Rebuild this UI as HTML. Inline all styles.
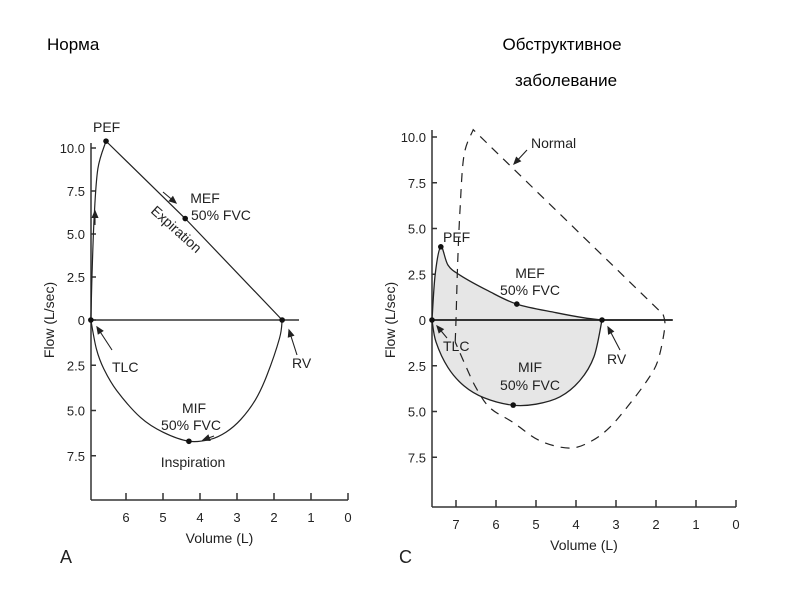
<!DOCTYPE html>
<html><head><meta charset="utf-8"><style>
body{margin:0;background:#fff}
svg{display:block;font-family:"Liberation Sans",sans-serif}
</style></head><body>
<svg id="s" width="794" height="595">
<text x="47" y="50" font-size="17">Норма</text>
<text x="562" y="50" font-size="17" text-anchor="middle">Обструктивное</text>
<text x="566" y="86" font-size="17" text-anchor="middle">заболевание</text>
</svg>
<script>
// Panel A (normal)
const aExp=[[6.95,0],[6.92,2.5],[6.86,6],[6.76,8.8],[6.54,10.4]];
const aExpLine=[[6.54,10.4],[4.4,5.9],[1.78,0]];
const aInsp=[[6.95,0],[6.8,-1.6],[6.6,-2.7],[6.25,-3.9],[5.6,-5.4],[5,-6.2],[4.3,-6.7],[3.73,-6.6],[3.3,-6.2],[2.9,-5.5],[2.5,-4.4],[2.2,-3.1],[1.85,-1.0],[1.78,0]];
const aPts=[[6.95,0],[6.54,10.4],[4.4,5.9],[1.78,0],[4.3,-6.7]];
// Panel C (obstructive)
const cExp=[[7.6,0],[7.52,2.5],[7.38,4.0],[7.2,3.0],[6.9,2.45],[6.2,1.6],[5.48,0.87],[4.5,0.4],[3.8,0.12],[3.35,0]];
const cInsp=[[7.6,0],[7.5,-1.2],[7.2,-2.6],[6.8,-3.6],[6.3,-4.25],[5.6,-4.65],[5,-4.6],[4.4,-4.2],[3.9,-3.3],[3.55,-2.0],[3.35,0]];
const cNormExp=[[7.02,-1.2],[7.0,0],[6.96,3],[6.9,6],[6.8,9],[6.57,10.4],[1.82,0.3]];
const cNormInsp=[[1.82,0.3],[1.78,-0.4],[1.95,-2.2],[2.22,-3.3],[2.7,-4.7],[3.15,-5.85],[3.6,-6.6],[4.15,-7.0],[4.9,-6.6],[5.57,-5.6],[6.15,-4.8],[6.5,-3.7],[6.8,-2.3],[7.02,-1.2]];
const cPts=[[7.6,0],[7.38,4.0],[5.48,0.87],[3.35,0],[5.57,-4.65]];
const yTicks=[10,7.5,5,2.5,0,-2.5,-5,-7.5];
const yTickLabels=["10.0","7.5","5.0","2.5","0","2.5","5.0","7.5"];
const aXTicks=[6,5,4,3,2,1,0];
const cXTicks=[7,6,5,4,3,2,1,0];

const S=document.getElementById('s');const NS="http://www.w3.org/2000/svg";
function mk(t,a,txt){const e=document.createElementNS(NS,t);for(const k in a)e.setAttribute(k,a[k]);if(txt!==undefined)e.textContent=txt;S.appendChild(e);return e;}
function smooth(pts){let d="M"+pts[0][0]+","+pts[0][1];for(let i=0;i<pts.length-1;i++){const p0=pts[i-1]||pts[i],p1=pts[i],p2=pts[i+1],p3=pts[i+2]||p2;
d+=" C"+(p1[0]+(p2[0]-p0[0])/6)+","+(p1[1]+(p2[1]-p0[1])/6)+" "+(p2[0]-(p3[0]-p1[0])/6)+","+(p2[1]-(p3[1]-p1[1])/6)+" "+p2[0]+","+p2[1];}return d;}
function lineD(pts){return "M"+pts.map(p=>p.join(",")).join(" L");}

function panel(o){
 const X=v=>o.x0-o.xs*v;
 const Y=f=>f>=0?o.y0-o.ys*f:o.y0-o.yn*f;
 const P=arr=>arr.map(p=>[X(p[0]),Y(p[1])]);
 let e;
 e=mk('line',{x1:o.ax,y1:o.top,x2:o.ax,y2:o.bot,stroke:'#333','stroke-width':1.5});
 
 e=mk('line',{x1:o.ax,y1:o.bot,x2:X(0),y2:o.bot,stroke:'#333','stroke-width':1.5});
 
 yTicks.forEach((t,i)=>{
  e=mk('line',{x1:o.ax,y1:Y(t),x2:o.ax+5,y2:Y(t),stroke:'#333','stroke-width':1.5});
  
  e=mk('text',{x:o.ax-6,y:Y(t)+5,'font-size':13,'text-anchor':'end',fill:'#222'},yTickLabels[i]);
  
 });
 o.xt.forEach(t=>{
  e=mk('line',{x1:X(t),y1:o.bot,x2:X(t),y2:o.bot-7,stroke:'#333','stroke-width':1.5});
  
  e=mk('text',{x:X(t),y:o.bot+22,'font-size':13,'text-anchor':'middle',fill:'#222'},String(t));
  
 });
 e=mk('text',{x:(o.ax+X(0))/2,y:o.bot+43,'font-size':14,'text-anchor':'middle',fill:'#222'},'Volume (L)');
 
 e=mk('text',{x:0,y:0,'font-size':14,'text-anchor':'middle',fill:'#222',transform:`translate(${o.ax-37},${o.y0}) rotate(-90)`},'Flow (L/sec)');
 
 return {X,Y,P};
}

// Panel A
const A=panel({id:'panel-a',x0:348,xs:37,y0:320,ys:17.2,yn:18.1,ax:91,top:143,bot:500,xt:aXTicks});
let e;
e=mk('line',{x1:91,y1:320,x2:299,y2:320,stroke:'#333','stroke-width':1.5});

e=mk('path',{d:smooth(A.P(aExp)),fill:'none',stroke:'#222','stroke-width':1.2});

e=mk('path',{d:lineD(A.P(aExpLine)),fill:'none',stroke:'#222','stroke-width':1.2});

e=mk('path',{d:smooth(A.P(aInsp)),fill:'none',stroke:'#222','stroke-width':1.2});

A.P(aPts).forEach(p=>{e=mk('circle',{cx:p[0],cy:p[1],r:2.8,fill:'#111'});
});

// Panel C
const C=panel({id:'panel-c',x0:736,xs:40,y0:320,ys:18.3,yn:18.3,ax:432,top:130,bot:507,xt:cXTicks});
const cLoop=C.P(cExp).concat(C.P(cInsp).slice().reverse());
e=mk('path',{d:smooth(C.P(cExp))+" "+smooth(C.P(cInsp).reverse()).replace(/^M/,'L')+"Z",fill:'#e6e6e6',stroke:'none'});

e=mk('line',{x1:432,y1:320,x2:C.X(1.58),y2:320,stroke:'#333','stroke-width':2});

e=mk('path',{d:smooth(C.P(cNormExp.slice(0,6)))+" L"+C.P([cNormExp[6]])[0].join(","),fill:'none',stroke:'#222','stroke-width':1.2,'stroke-dasharray':'9,7'});

e=mk('path',{d:smooth(C.P(cNormInsp)),fill:'none',stroke:'#222','stroke-width':1.2,'stroke-dasharray':'9,7'});

e=mk('path',{d:smooth(C.P(cExp)),fill:'none',stroke:'#222','stroke-width':1.3});

e=mk('path',{d:smooth(C.P(cInsp)),fill:'none',stroke:'#222','stroke-width':1.3});

C.P(cPts).forEach(p=>{e=mk('circle',{cx:p[0],cy:p[1],r:2.8,fill:'#111'});
});

// annotations
function label(x,y,t,name,extra){e=mk('text',Object.assign({x:x,y:y,'font-size':14,fill:'#222'},extra||{}),t);
}
function arrow(x1,y1,x2,y2,name){const a=Math.atan2(y2-y1,x2-x1),L=7;
e=mk('path',{d:`M${x1},${y1} L${x2},${y2} M${x2},${y2} L${x2-L*Math.cos(a-0.4)},${y2-L*Math.sin(a-0.4)} L${x2-L*Math.cos(a+0.4)},${y2-L*Math.sin(a+0.4)}Z`,stroke:'#222',fill:'#222','stroke-width':1.1});
}
label(93,132,'PEF','panel-a-pef-label');
label(205,203,'MEF','panel-a-mef-label',{'text-anchor':'middle'});
label(191,220,'50% FVC','panel-a-mef-fvc-label');
label(0,0,'Expiration','panel-a-expiration-label',{transform:'translate(150,212) rotate(42)'});
label(194,413,'MIF','panel-a-mif-label',{'text-anchor':'middle'});
label(191,430,'50% FVC','panel-a-mif-fvc-label',{'text-anchor':'middle'});
label(193,467,'Inspiration','panel-a-inspiration-label',{'text-anchor':'middle'});
label(112,372,'TLC','panel-a-tlc-label');
label(292,368,'RV','panel-a-rv-label');
arrow(112,350,97,327,'panel-a-tlc-arrow');
arrow(297,355,289,330,'panel-a-rv-arrow');
arrow(163,192,176,203,'panel-a-expiration-arrow');
arrow(95,225,95,211,'panel-a-rise-arrow');
arrow(214,436,203,440,'panel-a-inspiration-arrow');
label(531,148,'Normal','panel-c-normal-label');
arrow(527,150,514,164,'panel-c-normal-arrow');
label(443,242,'PEF','panel-c-pef-label');
label(530,278,'MEF','panel-c-mef-label',{'text-anchor':'middle'});
label(530,295,'50% FVC','panel-c-mef-fvc-label',{'text-anchor':'middle'});
label(530,372,'MIF','panel-c-mif-label',{'text-anchor':'middle'});
label(530,390,'50% FVC','panel-c-mif-fvc-label',{'text-anchor':'middle'});
label(443,351,'TLC','panel-c-tlc-label');
label(607,364,'RV','panel-c-rv-label');
arrow(447,338,437,326,'panel-c-tlc-arrow');
arrow(620,350,608,327,'panel-c-rv-arrow');
label(60,563,'A','panel-a-letter',{'font-size':18});
label(399,563,'C','panel-c-letter',{'font-size':18});
</script>
</body></html>
